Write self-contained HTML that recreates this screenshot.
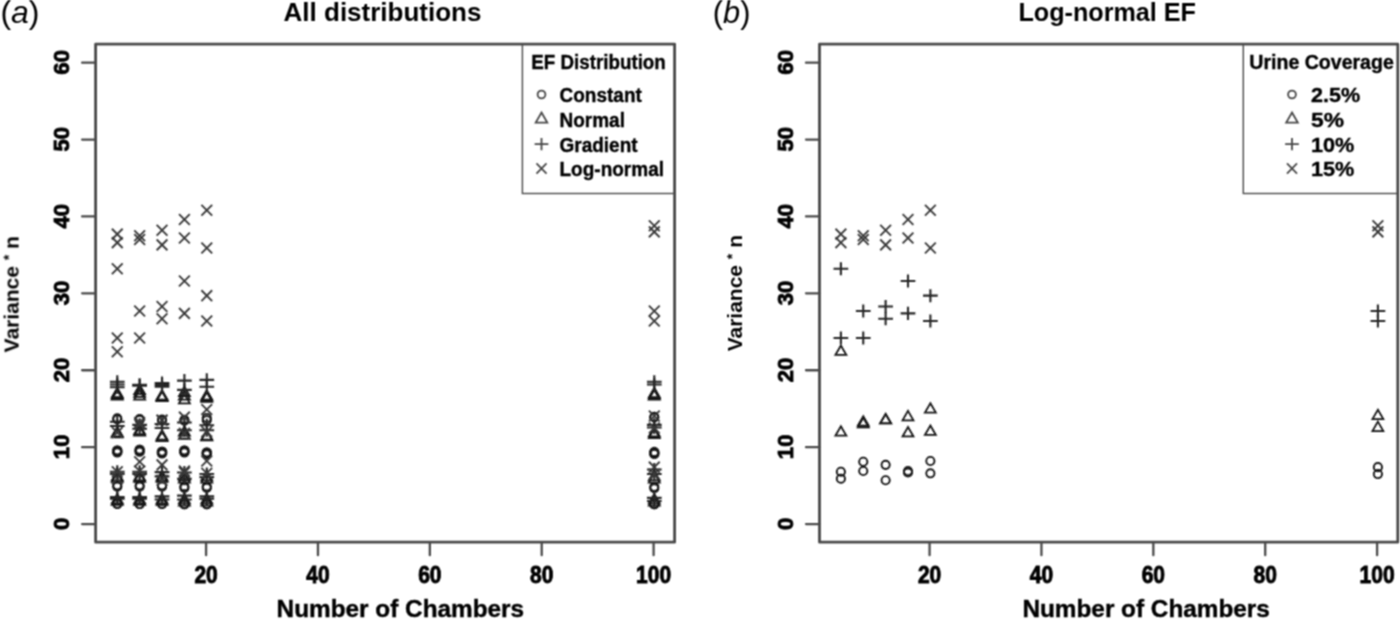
<!DOCTYPE html>
<html><head><meta charset="utf-8"><style>
html,body{margin:0;padding:0;background:#fff;}
svg{display:block;}
text{font-family:"Liberation Sans",sans-serif;fill:#000;}
.tk{font-weight:bold;font-size:21px;stroke:#000;stroke-width:0.8px;}
.lt{font-weight:bold;font-size:19px;stroke:#000;stroke-width:0.35px;}
.lh{font-weight:bold;font-size:19.4px;stroke:#000;stroke-width:0.35px;}
.ti{font-weight:bold;font-size:26px;}
.yl{font-weight:bold;font-size:21px;}
.xl{font-weight:bold;font-size:24.6px;stroke:#000;stroke-width:0.4px;}
.pl{font-size:32px;}
</style></head><body>
<svg width="1400" height="619" viewBox="0 0 1400 619">
<defs><filter id="bl" x="0" y="0" width="1400" height="619" filterUnits="userSpaceOnUse"><feConvolveMatrix order="3" kernelMatrix="1 2 1 2 4 2 1 2 1" divisor="16" edgeMode="none"/></filter></defs>
<rect width="1400" height="619" fill="#fff"/>
<g filter="url(#bl)">
<text class="pl" transform="translate(0.4,23)">(<tspan font-style="italic">a</tspan>)</text>
<text class="pl" transform="translate(712.8,23) scale(0.96,1)">(<tspan font-style="italic">b</tspan>)</text>
<text class="ti" x="382.5" y="21" text-anchor="middle">All distributions</text>
<text class="ti" x="1107.2" y="21" text-anchor="middle" textLength="177.5" lengthAdjust="spacingAndGlyphs">Log-normal EF</text>
<text class="yl" transform="translate(18.6,294.2) rotate(-90)" text-anchor="middle">Variance <tspan font-size="14" dy="-5">*</tspan><tspan dy="5"> n</tspan></text>
<text class="yl" transform="translate(742.2,293.2) rotate(-90)" text-anchor="middle">Variance <tspan font-size="14" dy="-5">*</tspan><tspan dy="5"> n</tspan></text>
<text class="xl" x="276.6" y="616.6" textLength="247.5" lengthAdjust="spacingAndGlyphs">Number of Chambers</text>
<text class="xl" x="1022.4" y="616.6" textLength="247.5" lengthAdjust="spacingAndGlyphs">Number of Chambers</text>
<rect x="95.60" y="44.20" width="579.00" height="498.00" fill="none" stroke="#4a4a4a" stroke-width="2.8" stroke-linejoin="round"/>
<path d="M82.10 524.06H95.60" stroke="#4a4a4a" stroke-width="2.3" stroke-linecap="round"/>
<text class="tk" transform="translate(69.00,523.76) rotate(-90) scale(1.05,1.05)" text-anchor="middle">0</text>
<path d="M82.10 447.16H95.60" stroke="#4a4a4a" stroke-width="2.3" stroke-linecap="round"/>
<text class="tk" transform="translate(69.00,446.86) rotate(-90) scale(1.05,1.05)" text-anchor="middle">10</text>
<path d="M82.10 370.26H95.60" stroke="#4a4a4a" stroke-width="2.3" stroke-linecap="round"/>
<text class="tk" transform="translate(69.00,369.96) rotate(-90) scale(1.05,1.05)" text-anchor="middle">20</text>
<path d="M82.10 293.36H95.60" stroke="#4a4a4a" stroke-width="2.3" stroke-linecap="round"/>
<text class="tk" transform="translate(69.00,293.06) rotate(-90) scale(1.05,1.05)" text-anchor="middle">30</text>
<path d="M82.10 216.46H95.60" stroke="#4a4a4a" stroke-width="2.3" stroke-linecap="round"/>
<text class="tk" transform="translate(69.00,216.16) rotate(-90) scale(1.05,1.05)" text-anchor="middle">40</text>
<path d="M82.10 139.56H95.60" stroke="#4a4a4a" stroke-width="2.3" stroke-linecap="round"/>
<text class="tk" transform="translate(69.00,139.26) rotate(-90) scale(1.05,1.05)" text-anchor="middle">50</text>
<path d="M82.10 62.66H95.60" stroke="#4a4a4a" stroke-width="2.3" stroke-linecap="round"/>
<text class="tk" transform="translate(69.00,62.36) rotate(-90) scale(1.05,1.05)" text-anchor="middle">60</text>
<path d="M206.08 542.20V555.20" stroke="#4a4a4a" stroke-width="2.3" stroke-linecap="round"/>
<text class="tk" transform="translate(206.08,582.8) scale(1,1.14)" text-anchor="middle">20</text>
<path d="M317.96 542.20V555.20" stroke="#4a4a4a" stroke-width="2.3" stroke-linecap="round"/>
<text class="tk" transform="translate(317.96,582.8) scale(1,1.14)" text-anchor="middle">40</text>
<path d="M429.84 542.20V555.20" stroke="#4a4a4a" stroke-width="2.3" stroke-linecap="round"/>
<text class="tk" transform="translate(429.84,582.8) scale(1,1.14)" text-anchor="middle">60</text>
<path d="M541.72 542.20V555.20" stroke="#4a4a4a" stroke-width="2.3" stroke-linecap="round"/>
<text class="tk" transform="translate(541.72,582.8) scale(1,1.14)" text-anchor="middle">80</text>
<path d="M653.60 542.20V555.20" stroke="#4a4a4a" stroke-width="2.3" stroke-linecap="round"/>
<text class="tk" transform="translate(653.60,582.8) scale(1,1.14)" text-anchor="middle">100</text>
<rect x="819.50" y="44.20" width="578.30" height="498.00" fill="none" stroke="#4a4a4a" stroke-width="2.8" stroke-linejoin="round"/>
<path d="M806.00 524.06H819.50" stroke="#4a4a4a" stroke-width="2.3" stroke-linecap="round"/>
<text class="tk" transform="translate(792.50,523.76) rotate(-90) scale(1.05,1.05)" text-anchor="middle">0</text>
<path d="M806.00 447.16H819.50" stroke="#4a4a4a" stroke-width="2.3" stroke-linecap="round"/>
<text class="tk" transform="translate(792.50,446.86) rotate(-90) scale(1.05,1.05)" text-anchor="middle">10</text>
<path d="M806.00 370.26H819.50" stroke="#4a4a4a" stroke-width="2.3" stroke-linecap="round"/>
<text class="tk" transform="translate(792.50,369.96) rotate(-90) scale(1.05,1.05)" text-anchor="middle">20</text>
<path d="M806.00 293.36H819.50" stroke="#4a4a4a" stroke-width="2.3" stroke-linecap="round"/>
<text class="tk" transform="translate(792.50,293.06) rotate(-90) scale(1.05,1.05)" text-anchor="middle">30</text>
<path d="M806.00 216.46H819.50" stroke="#4a4a4a" stroke-width="2.3" stroke-linecap="round"/>
<text class="tk" transform="translate(792.50,216.16) rotate(-90) scale(1.05,1.05)" text-anchor="middle">40</text>
<path d="M806.00 139.56H819.50" stroke="#4a4a4a" stroke-width="2.3" stroke-linecap="round"/>
<text class="tk" transform="translate(792.50,139.26) rotate(-90) scale(1.05,1.05)" text-anchor="middle">50</text>
<path d="M806.00 62.66H819.50" stroke="#4a4a4a" stroke-width="2.3" stroke-linecap="round"/>
<text class="tk" transform="translate(792.50,62.36) rotate(-90) scale(1.05,1.05)" text-anchor="middle">60</text>
<path d="M929.58 542.20V555.20" stroke="#4a4a4a" stroke-width="2.3" stroke-linecap="round"/>
<text class="tk" transform="translate(929.58,582.8) scale(1,1.14)" text-anchor="middle">20</text>
<path d="M1041.46 542.20V555.20" stroke="#4a4a4a" stroke-width="2.3" stroke-linecap="round"/>
<text class="tk" transform="translate(1041.46,582.8) scale(1,1.14)" text-anchor="middle">40</text>
<path d="M1153.34 542.20V555.20" stroke="#4a4a4a" stroke-width="2.3" stroke-linecap="round"/>
<text class="tk" transform="translate(1153.34,582.8) scale(1,1.14)" text-anchor="middle">60</text>
<path d="M1265.22 542.20V555.20" stroke="#4a4a4a" stroke-width="2.3" stroke-linecap="round"/>
<text class="tk" transform="translate(1265.22,582.8) scale(1,1.14)" text-anchor="middle">80</text>
<path d="M1377.10 542.20V555.20" stroke="#4a4a4a" stroke-width="2.3" stroke-linecap="round"/>
<text class="tk" transform="translate(1377.10,582.8) scale(1,1.14)" text-anchor="middle">100</text>
<circle cx="117.28" cy="504.07" r="4.10" fill="none" stroke="#151515" stroke-width="1.9"/>
<circle cx="117.28" cy="503.68" r="4.10" fill="none" stroke="#151515" stroke-width="1.9"/>
<circle cx="117.28" cy="486.76" r="4.10" fill="none" stroke="#151515" stroke-width="1.9"/>
<circle cx="117.28" cy="485.23" r="4.10" fill="none" stroke="#151515" stroke-width="1.9"/>
<circle cx="117.28" cy="452.16" r="4.10" fill="none" stroke="#151515" stroke-width="2.4"/>
<circle cx="117.28" cy="450.62" r="4.10" fill="none" stroke="#151515" stroke-width="2.4"/>
<circle cx="117.28" cy="419.48" r="4.10" fill="none" stroke="#151515" stroke-width="1.9"/>
<circle cx="117.28" cy="418.32" r="4.10" fill="none" stroke="#151515" stroke-width="1.9"/>
<path d="M117.28 495.46L122.73 504.91L111.82 504.91Z" fill="none" stroke="#151515" stroke-width="1.8" stroke-linejoin="miter"/>
<path d="M117.28 493.92L122.73 503.37L111.82 503.37Z" fill="none" stroke="#151515" stroke-width="1.8" stroke-linejoin="miter"/>
<path d="M117.28 472.39L122.73 481.84L111.82 481.84Z" fill="none" stroke="#151515" stroke-width="1.8" stroke-linejoin="miter"/>
<path d="M117.28 470.85L122.73 480.30L111.82 480.30Z" fill="none" stroke="#151515" stroke-width="1.8" stroke-linejoin="miter"/>
<path d="M117.28 427.02L122.73 436.47L111.82 436.47Z" fill="none" stroke="#151515" stroke-width="1.8" stroke-linejoin="miter"/>
<path d="M117.28 427.79L122.73 437.24L111.82 437.24Z" fill="none" stroke="#151515" stroke-width="1.8" stroke-linejoin="miter"/>
<path d="M117.28 387.80L122.73 397.25L111.82 397.25Z" fill="none" stroke="#151515" stroke-width="1.8" stroke-linejoin="miter"/>
<path d="M117.28 388.95L122.73 398.40L111.82 398.40Z" fill="none" stroke="#151515" stroke-width="1.8" stroke-linejoin="miter"/>
<path d="M117.28 390.11L122.73 399.56L111.82 399.56Z" fill="none" stroke="#151515" stroke-width="1.8" stroke-linejoin="miter"/>
<path d="M109.92 498.68H124.64M117.28 492.15V505.21" stroke="#252525" stroke-width="2.1"/>
<path d="M109.92 497.14H124.64M117.28 490.61V503.68" stroke="#252525" stroke-width="2.1"/>
<path d="M109.92 474.07H124.64M117.28 467.54V480.61" stroke="#252525" stroke-width="2.1"/>
<path d="M109.92 471.77H124.64M117.28 465.24V478.30" stroke="#252525" stroke-width="2.1"/>
<path d="M109.92 421.78H124.64M117.28 415.25V428.31" stroke="#252525" stroke-width="2.1"/>
<path d="M109.92 426.01H124.64M117.28 419.48V432.54" stroke="#252525" stroke-width="2.1"/>
<path d="M109.92 381.79H124.64M117.28 375.26V388.33" stroke="#252525" stroke-width="2.1"/>
<path d="M109.92 384.49H124.64M117.28 377.95V391.02" stroke="#252525" stroke-width="2.1"/>
<path d="M109.92 387.18H124.64M117.28 380.65V393.71" stroke="#252525" stroke-width="2.1"/>
<path d="M111.89 466.39L122.66 477.15M111.89 477.15L122.66 466.39" stroke="#3a3a3a" stroke-width="1.9"/>
<path d="M111.89 473.31L122.66 484.07M111.89 484.07L122.66 473.31" stroke="#3a3a3a" stroke-width="1.9"/>
<path d="M111.89 346.42L122.66 357.19M111.89 357.19L122.66 346.42" stroke="#3a3a3a" stroke-width="1.9"/>
<path d="M111.89 427.17L122.66 437.93M111.89 437.93L122.66 427.17" stroke="#3a3a3a" stroke-width="1.9"/>
<path d="M111.89 263.37L122.66 274.13M111.89 274.13L122.66 263.37" stroke="#3a3a3a" stroke-width="1.9"/>
<path d="M111.89 332.58L122.66 343.34M111.89 343.34L122.66 332.58" stroke="#3a3a3a" stroke-width="1.9"/>
<path d="M111.89 228.76L122.66 239.53M111.89 239.53L122.66 228.76" stroke="#3a3a3a" stroke-width="1.9"/>
<path d="M111.89 237.22L122.66 247.99M111.89 247.99L122.66 237.22" stroke="#3a3a3a" stroke-width="1.9"/>
<circle cx="139.65" cy="504.07" r="4.10" fill="none" stroke="#151515" stroke-width="1.9"/>
<circle cx="139.65" cy="504.07" r="4.10" fill="none" stroke="#151515" stroke-width="1.9"/>
<circle cx="139.65" cy="486.76" r="4.10" fill="none" stroke="#151515" stroke-width="1.9"/>
<circle cx="139.65" cy="485.23" r="4.10" fill="none" stroke="#151515" stroke-width="1.9"/>
<circle cx="139.65" cy="451.39" r="4.10" fill="none" stroke="#151515" stroke-width="2.4"/>
<circle cx="139.65" cy="449.85" r="4.10" fill="none" stroke="#151515" stroke-width="2.4"/>
<circle cx="139.65" cy="419.86" r="4.10" fill="none" stroke="#151515" stroke-width="1.9"/>
<circle cx="139.65" cy="419.09" r="4.10" fill="none" stroke="#151515" stroke-width="1.9"/>
<path d="M139.65 495.46L145.11 504.91L134.20 504.91Z" fill="none" stroke="#151515" stroke-width="1.8" stroke-linejoin="miter"/>
<path d="M139.65 493.92L145.11 503.37L134.20 503.37Z" fill="none" stroke="#151515" stroke-width="1.8" stroke-linejoin="miter"/>
<path d="M139.65 472.39L145.11 481.84L134.20 481.84Z" fill="none" stroke="#151515" stroke-width="1.8" stroke-linejoin="miter"/>
<path d="M139.65 470.85L145.11 480.30L134.20 480.30Z" fill="none" stroke="#151515" stroke-width="1.8" stroke-linejoin="miter"/>
<path d="M139.65 424.71L145.11 434.16L134.20 434.16Z" fill="none" stroke="#151515" stroke-width="1.8" stroke-linejoin="miter"/>
<path d="M139.65 426.25L145.11 435.70L134.20 435.70Z" fill="none" stroke="#151515" stroke-width="1.8" stroke-linejoin="miter"/>
<path d="M139.65 384.72L145.11 394.17L134.20 394.17Z" fill="none" stroke="#151515" stroke-width="1.8" stroke-linejoin="miter"/>
<path d="M139.65 387.42L145.11 396.86L134.20 396.86Z" fill="none" stroke="#151515" stroke-width="1.8" stroke-linejoin="miter"/>
<path d="M139.65 390.11L145.11 399.56L134.20 399.56Z" fill="none" stroke="#151515" stroke-width="1.8" stroke-linejoin="miter"/>
<path d="M132.29 498.68H147.01M139.65 492.15V505.21" stroke="#252525" stroke-width="2.1"/>
<path d="M132.29 497.14H147.01M139.65 490.61V503.68" stroke="#252525" stroke-width="2.1"/>
<path d="M132.29 474.07H147.01M139.65 467.54V480.61" stroke="#252525" stroke-width="2.1"/>
<path d="M132.29 471.77H147.01M139.65 465.24V478.30" stroke="#252525" stroke-width="2.1"/>
<path d="M132.29 424.86H147.01M139.65 418.33V431.39" stroke="#252525" stroke-width="2.1"/>
<path d="M132.29 428.70H147.01M139.65 422.17V435.24" stroke="#252525" stroke-width="2.1"/>
<path d="M132.29 384.87H147.01M139.65 378.34V391.40" stroke="#252525" stroke-width="2.1"/>
<path d="M132.29 385.64H147.01M139.65 379.11V392.17" stroke="#252525" stroke-width="2.1"/>
<path d="M134.27 456.39L145.03 467.15M134.27 467.15L145.03 456.39" stroke="#3a3a3a" stroke-width="1.9"/>
<path d="M134.27 465.62L145.03 476.38M134.27 476.38L145.03 465.62" stroke="#3a3a3a" stroke-width="1.9"/>
<path d="M134.27 417.17L145.03 427.93M134.27 427.93L145.03 417.17" stroke="#3a3a3a" stroke-width="1.9"/>
<path d="M134.27 418.71L145.03 429.47M134.27 429.47L145.03 418.71" stroke="#3a3a3a" stroke-width="1.9"/>
<path d="M134.27 305.66L145.03 316.43M134.27 316.43L145.03 305.66" stroke="#3a3a3a" stroke-width="1.9"/>
<path d="M134.27 332.58L145.03 343.34M134.27 343.34L145.03 332.58" stroke="#3a3a3a" stroke-width="1.9"/>
<path d="M134.27 230.30L145.03 241.07M134.27 241.07L145.03 230.30" stroke="#3a3a3a" stroke-width="1.9"/>
<path d="M134.27 234.15L145.03 244.91M134.27 244.91L145.03 234.15" stroke="#3a3a3a" stroke-width="1.9"/>
<circle cx="162.03" cy="504.07" r="4.10" fill="none" stroke="#151515" stroke-width="1.9"/>
<circle cx="162.03" cy="503.68" r="4.10" fill="none" stroke="#151515" stroke-width="1.9"/>
<circle cx="162.03" cy="486.76" r="4.10" fill="none" stroke="#151515" stroke-width="1.9"/>
<circle cx="162.03" cy="485.23" r="4.10" fill="none" stroke="#151515" stroke-width="1.9"/>
<circle cx="162.03" cy="453.31" r="4.10" fill="none" stroke="#151515" stroke-width="2.4"/>
<circle cx="162.03" cy="451.77" r="4.10" fill="none" stroke="#151515" stroke-width="2.4"/>
<circle cx="162.03" cy="420.63" r="4.10" fill="none" stroke="#151515" stroke-width="1.9"/>
<circle cx="162.03" cy="419.48" r="4.10" fill="none" stroke="#151515" stroke-width="1.9"/>
<path d="M162.03 495.46L167.48 504.91L156.57 504.91Z" fill="none" stroke="#151515" stroke-width="1.8" stroke-linejoin="miter"/>
<path d="M162.03 493.92L167.48 503.37L156.57 503.37Z" fill="none" stroke="#151515" stroke-width="1.8" stroke-linejoin="miter"/>
<path d="M162.03 472.39L167.48 481.84L156.57 481.84Z" fill="none" stroke="#151515" stroke-width="1.8" stroke-linejoin="miter"/>
<path d="M162.03 470.85L167.48 480.30L156.57 480.30Z" fill="none" stroke="#151515" stroke-width="1.8" stroke-linejoin="miter"/>
<path d="M162.03 430.10L167.48 439.54L156.57 439.54Z" fill="none" stroke="#151515" stroke-width="1.8" stroke-linejoin="miter"/>
<path d="M162.03 431.63L167.48 441.08L156.57 441.08Z" fill="none" stroke="#151515" stroke-width="1.8" stroke-linejoin="miter"/>
<path d="M162.03 390.11L167.48 399.56L156.57 399.56Z" fill="none" stroke="#151515" stroke-width="1.8" stroke-linejoin="miter"/>
<path d="M162.03 390.88L167.48 400.32L156.57 400.32Z" fill="none" stroke="#151515" stroke-width="1.8" stroke-linejoin="miter"/>
<path d="M162.03 391.65L167.48 401.09L156.57 401.09Z" fill="none" stroke="#151515" stroke-width="1.8" stroke-linejoin="miter"/>
<path d="M154.67 499.45H169.39M162.03 492.92V505.98" stroke="#252525" stroke-width="2.1"/>
<path d="M154.67 496.38H169.39M162.03 489.84V502.91" stroke="#252525" stroke-width="2.1"/>
<path d="M154.67 476.38H169.39M162.03 469.85V482.91" stroke="#252525" stroke-width="2.1"/>
<path d="M154.67 472.15H169.39M162.03 465.62V478.68" stroke="#252525" stroke-width="2.1"/>
<path d="M154.67 424.09H169.39M162.03 417.56V430.62" stroke="#252525" stroke-width="2.1"/>
<path d="M154.67 427.93H169.39M162.03 421.40V434.47" stroke="#252525" stroke-width="2.1"/>
<path d="M154.67 382.95H169.39M162.03 376.42V389.48" stroke="#252525" stroke-width="2.1"/>
<path d="M154.67 384.87H169.39M162.03 378.34V391.40" stroke="#252525" stroke-width="2.1"/>
<path d="M154.67 386.79H169.39M162.03 380.26V393.33" stroke="#252525" stroke-width="2.1"/>
<path d="M156.65 459.46L167.41 470.23M156.65 470.23L167.41 459.46" stroke="#3a3a3a" stroke-width="1.9"/>
<path d="M156.65 474.84L167.41 485.61M156.65 485.61L167.41 474.84" stroke="#3a3a3a" stroke-width="1.9"/>
<path d="M156.65 414.86L167.41 425.63M156.65 425.63L167.41 414.86" stroke="#3a3a3a" stroke-width="1.9"/>
<path d="M156.65 414.86L167.41 425.63M156.65 425.63L167.41 414.86" stroke="#3a3a3a" stroke-width="1.9"/>
<path d="M156.65 301.05L167.41 311.81M156.65 311.81L167.41 301.05" stroke="#3a3a3a" stroke-width="1.9"/>
<path d="M156.65 313.35L167.41 324.12M156.65 324.12L167.41 313.35" stroke="#3a3a3a" stroke-width="1.9"/>
<path d="M156.65 224.92L167.41 235.68M156.65 235.68L167.41 224.92" stroke="#3a3a3a" stroke-width="1.9"/>
<path d="M156.65 239.53L167.41 250.29M156.65 250.29L167.41 239.53" stroke="#3a3a3a" stroke-width="1.9"/>
<circle cx="184.40" cy="504.45" r="4.10" fill="none" stroke="#151515" stroke-width="1.9"/>
<circle cx="184.40" cy="504.07" r="4.10" fill="none" stroke="#151515" stroke-width="1.9"/>
<circle cx="184.40" cy="487.92" r="4.10" fill="none" stroke="#151515" stroke-width="1.9"/>
<circle cx="184.40" cy="486.38" r="4.10" fill="none" stroke="#151515" stroke-width="1.9"/>
<circle cx="184.40" cy="452.16" r="4.10" fill="none" stroke="#151515" stroke-width="2.4"/>
<circle cx="184.40" cy="450.62" r="4.10" fill="none" stroke="#151515" stroke-width="2.4"/>
<circle cx="184.40" cy="420.63" r="4.10" fill="none" stroke="#151515" stroke-width="1.9"/>
<circle cx="184.40" cy="419.86" r="4.10" fill="none" stroke="#151515" stroke-width="1.9"/>
<path d="M184.40 496.23L189.86 505.68L178.95 505.68Z" fill="none" stroke="#151515" stroke-width="1.8" stroke-linejoin="miter"/>
<path d="M184.40 493.92L189.86 503.37L178.95 503.37Z" fill="none" stroke="#151515" stroke-width="1.8" stroke-linejoin="miter"/>
<path d="M184.40 473.16L189.86 482.61L178.95 482.61Z" fill="none" stroke="#151515" stroke-width="1.8" stroke-linejoin="miter"/>
<path d="M184.40 470.85L189.86 480.30L178.95 480.30Z" fill="none" stroke="#151515" stroke-width="1.8" stroke-linejoin="miter"/>
<path d="M184.40 426.25L189.86 435.70L178.95 435.70Z" fill="none" stroke="#151515" stroke-width="1.8" stroke-linejoin="miter"/>
<path d="M184.40 429.33L189.86 438.77L178.95 438.77Z" fill="none" stroke="#151515" stroke-width="1.8" stroke-linejoin="miter"/>
<path d="M184.40 386.65L189.86 396.09L178.95 396.09Z" fill="none" stroke="#151515" stroke-width="1.8" stroke-linejoin="miter"/>
<path d="M184.40 390.11L189.86 399.56L178.95 399.56Z" fill="none" stroke="#151515" stroke-width="1.8" stroke-linejoin="miter"/>
<path d="M184.40 393.95L189.86 403.40L178.95 403.40Z" fill="none" stroke="#151515" stroke-width="1.8" stroke-linejoin="miter"/>
<path d="M177.04 499.45H191.76M184.40 492.92V505.98" stroke="#252525" stroke-width="2.1"/>
<path d="M177.04 495.61H191.76M184.40 489.07V502.14" stroke="#252525" stroke-width="2.1"/>
<path d="M177.04 478.69H191.76M184.40 472.16V485.22" stroke="#252525" stroke-width="2.1"/>
<path d="M177.04 472.54H191.76M184.40 466.00V479.07" stroke="#252525" stroke-width="2.1"/>
<path d="M177.04 422.55H191.76M184.40 416.02V429.08" stroke="#252525" stroke-width="2.1"/>
<path d="M177.04 430.24H191.76M184.40 423.71V436.77" stroke="#252525" stroke-width="2.1"/>
<path d="M177.04 380.64H191.76M184.40 374.11V387.17" stroke="#252525" stroke-width="2.1"/>
<path d="M177.04 389.87H191.76M184.40 383.34V396.40" stroke="#252525" stroke-width="2.1"/>
<path d="M179.02 465.62L189.79 476.38M179.02 476.38L189.79 465.62" stroke="#3a3a3a" stroke-width="1.9"/>
<path d="M179.02 467.15L189.79 477.92M179.02 477.92L189.79 467.15" stroke="#3a3a3a" stroke-width="1.9"/>
<path d="M179.02 411.79L189.79 422.55M179.02 422.55L189.79 411.79" stroke="#3a3a3a" stroke-width="1.9"/>
<path d="M179.02 427.94L189.79 438.70M179.02 438.70L189.79 427.94" stroke="#3a3a3a" stroke-width="1.9"/>
<path d="M179.02 275.67L189.79 286.44M179.02 286.44L189.79 275.67" stroke="#3a3a3a" stroke-width="1.9"/>
<path d="M179.02 307.97L189.79 318.74M179.02 318.74L189.79 307.97" stroke="#3a3a3a" stroke-width="1.9"/>
<path d="M179.02 214.15L189.79 224.92M179.02 224.92L189.79 214.15" stroke="#3a3a3a" stroke-width="1.9"/>
<path d="M179.02 232.61L189.79 243.37M179.02 243.37L189.79 232.61" stroke="#3a3a3a" stroke-width="1.9"/>
<circle cx="206.78" cy="504.45" r="4.10" fill="none" stroke="#151515" stroke-width="1.9"/>
<circle cx="206.78" cy="504.07" r="4.10" fill="none" stroke="#151515" stroke-width="1.9"/>
<circle cx="206.78" cy="487.92" r="4.10" fill="none" stroke="#151515" stroke-width="1.9"/>
<circle cx="206.78" cy="486.38" r="4.10" fill="none" stroke="#151515" stroke-width="1.9"/>
<circle cx="206.78" cy="454.08" r="4.10" fill="none" stroke="#151515" stroke-width="2.4"/>
<circle cx="206.78" cy="452.54" r="4.10" fill="none" stroke="#151515" stroke-width="2.4"/>
<circle cx="206.78" cy="420.24" r="4.10" fill="none" stroke="#151515" stroke-width="1.9"/>
<circle cx="206.78" cy="417.94" r="4.10" fill="none" stroke="#151515" stroke-width="1.9"/>
<path d="M206.78 496.23L212.23 505.68L201.33 505.68Z" fill="none" stroke="#151515" stroke-width="1.8" stroke-linejoin="miter"/>
<path d="M206.78 493.92L212.23 503.37L201.33 503.37Z" fill="none" stroke="#151515" stroke-width="1.8" stroke-linejoin="miter"/>
<path d="M206.78 473.16L212.23 482.61L201.33 482.61Z" fill="none" stroke="#151515" stroke-width="1.8" stroke-linejoin="miter"/>
<path d="M206.78 470.85L212.23 480.30L201.33 480.30Z" fill="none" stroke="#151515" stroke-width="1.8" stroke-linejoin="miter"/>
<path d="M206.78 430.10L212.23 439.54L201.33 439.54Z" fill="none" stroke="#151515" stroke-width="1.8" stroke-linejoin="miter"/>
<path d="M206.78 430.86L212.23 440.31L201.33 440.31Z" fill="none" stroke="#151515" stroke-width="1.8" stroke-linejoin="miter"/>
<path d="M206.78 390.11L212.23 399.56L201.33 399.56Z" fill="none" stroke="#151515" stroke-width="1.8" stroke-linejoin="miter"/>
<path d="M206.78 391.26L212.23 400.71L201.33 400.71Z" fill="none" stroke="#151515" stroke-width="1.8" stroke-linejoin="miter"/>
<path d="M206.78 392.41L212.23 401.86L201.33 401.86Z" fill="none" stroke="#151515" stroke-width="1.8" stroke-linejoin="miter"/>
<path d="M199.42 498.68H214.14M206.78 492.15V505.21" stroke="#252525" stroke-width="2.1"/>
<path d="M199.42 496.38H214.14M206.78 489.84V502.91" stroke="#252525" stroke-width="2.1"/>
<path d="M199.42 477.15H214.14M206.78 470.62V483.68" stroke="#252525" stroke-width="2.1"/>
<path d="M199.42 474.07H214.14M206.78 467.54V480.61" stroke="#252525" stroke-width="2.1"/>
<path d="M199.42 425.24H214.14M206.78 418.71V431.78" stroke="#252525" stroke-width="2.1"/>
<path d="M199.42 430.24H214.14M206.78 423.71V436.77" stroke="#252525" stroke-width="2.1"/>
<path d="M199.42 379.87H214.14M206.78 373.34V386.40" stroke="#252525" stroke-width="2.1"/>
<path d="M199.42 386.79H214.14M206.78 380.26V393.33" stroke="#252525" stroke-width="2.1"/>
<path d="M201.40 455.62L212.16 466.38M201.40 466.38L212.16 455.62" stroke="#3a3a3a" stroke-width="1.9"/>
<path d="M201.40 467.92L212.16 478.69M201.40 478.69L212.16 467.92" stroke="#3a3a3a" stroke-width="1.9"/>
<path d="M201.40 404.10L212.16 414.86M201.40 414.86L212.16 404.10" stroke="#3a3a3a" stroke-width="1.9"/>
<path d="M201.40 426.40L212.16 437.16M201.40 437.16L212.16 426.40" stroke="#3a3a3a" stroke-width="1.9"/>
<path d="M201.40 290.28L212.16 301.05M201.40 301.05L212.16 290.28" stroke="#3a3a3a" stroke-width="1.9"/>
<path d="M201.40 315.66L212.16 326.43M201.40 326.43L212.16 315.66" stroke="#3a3a3a" stroke-width="1.9"/>
<path d="M201.40 204.93L212.16 215.69M201.40 215.69L212.16 204.93" stroke="#3a3a3a" stroke-width="1.9"/>
<path d="M201.40 242.61L212.16 253.37M201.40 253.37L212.16 242.61" stroke="#3a3a3a" stroke-width="1.9"/>
<circle cx="654.30" cy="504.45" r="4.10" fill="none" stroke="#151515" stroke-width="1.9"/>
<circle cx="654.30" cy="504.07" r="4.10" fill="none" stroke="#151515" stroke-width="1.9"/>
<circle cx="654.30" cy="488.30" r="4.10" fill="none" stroke="#151515" stroke-width="1.9"/>
<circle cx="654.30" cy="486.76" r="4.10" fill="none" stroke="#151515" stroke-width="1.9"/>
<circle cx="654.30" cy="453.70" r="4.10" fill="none" stroke="#151515" stroke-width="2.4"/>
<circle cx="654.30" cy="452.16" r="4.10" fill="none" stroke="#151515" stroke-width="2.4"/>
<circle cx="654.30" cy="417.55" r="4.10" fill="none" stroke="#151515" stroke-width="1.9"/>
<circle cx="654.30" cy="416.78" r="4.10" fill="none" stroke="#151515" stroke-width="1.9"/>
<path d="M654.30 496.23L659.75 505.68L648.85 505.68Z" fill="none" stroke="#151515" stroke-width="1.8" stroke-linejoin="miter"/>
<path d="M654.30 493.92L659.75 503.37L648.85 503.37Z" fill="none" stroke="#151515" stroke-width="1.8" stroke-linejoin="miter"/>
<path d="M654.30 473.16L659.75 482.61L648.85 482.61Z" fill="none" stroke="#151515" stroke-width="1.8" stroke-linejoin="miter"/>
<path d="M654.30 470.85L659.75 480.30L648.85 480.30Z" fill="none" stroke="#151515" stroke-width="1.8" stroke-linejoin="miter"/>
<path d="M654.30 427.02L659.75 436.47L648.85 436.47Z" fill="none" stroke="#151515" stroke-width="1.8" stroke-linejoin="miter"/>
<path d="M654.30 428.56L659.75 438.01L648.85 438.01Z" fill="none" stroke="#151515" stroke-width="1.8" stroke-linejoin="miter"/>
<path d="M654.30 387.80L659.75 397.25L648.85 397.25Z" fill="none" stroke="#151515" stroke-width="1.8" stroke-linejoin="miter"/>
<path d="M654.30 388.95L659.75 398.40L648.85 398.40Z" fill="none" stroke="#151515" stroke-width="1.8" stroke-linejoin="miter"/>
<path d="M654.30 390.11L659.75 399.56L648.85 399.56Z" fill="none" stroke="#151515" stroke-width="1.8" stroke-linejoin="miter"/>
<path d="M646.94 500.99H661.66M654.30 494.46V507.52" stroke="#252525" stroke-width="2.1"/>
<path d="M646.94 497.91H661.66M654.30 491.38V504.45" stroke="#252525" stroke-width="2.1"/>
<path d="M646.94 474.07H661.66M654.30 467.54V480.61" stroke="#252525" stroke-width="2.1"/>
<path d="M646.94 469.46H661.66M654.30 462.93V475.99" stroke="#252525" stroke-width="2.1"/>
<path d="M646.94 424.86H661.66M654.30 418.33V431.39" stroke="#252525" stroke-width="2.1"/>
<path d="M646.94 427.55H661.66M654.30 421.02V434.08" stroke="#252525" stroke-width="2.1"/>
<path d="M646.94 381.79H661.66M654.30 375.26V388.33" stroke="#252525" stroke-width="2.1"/>
<path d="M646.94 384.49H661.66M654.30 377.95V391.02" stroke="#252525" stroke-width="2.1"/>
<path d="M648.92 461.77L659.68 472.54M648.92 472.54L659.68 461.77" stroke="#3a3a3a" stroke-width="1.9"/>
<path d="M648.92 468.69L659.68 479.46M648.92 479.46L659.68 468.69" stroke="#3a3a3a" stroke-width="1.9"/>
<path d="M648.92 410.63L659.68 421.40M648.92 421.40L659.68 410.63" stroke="#3a3a3a" stroke-width="1.9"/>
<path d="M648.92 422.55L659.68 433.32M648.92 433.32L659.68 422.55" stroke="#3a3a3a" stroke-width="1.9"/>
<path d="M648.92 305.66L659.68 316.43M648.92 316.43L659.68 305.66" stroke="#3a3a3a" stroke-width="1.9"/>
<path d="M648.92 315.66L659.68 326.43M648.92 326.43L659.68 315.66" stroke="#3a3a3a" stroke-width="1.9"/>
<path d="M648.92 220.31L659.68 231.07M648.92 231.07L659.68 220.31" stroke="#3a3a3a" stroke-width="1.9"/>
<path d="M648.92 226.46L659.68 237.22M648.92 237.22L659.68 226.46" stroke="#3a3a3a" stroke-width="1.9"/>
<circle cx="840.88" cy="471.77" r="4.10" fill="none" stroke="#151515" stroke-width="1.9"/>
<circle cx="840.88" cy="478.69" r="4.10" fill="none" stroke="#151515" stroke-width="1.9"/>
<path d="M840.88 345.51L846.33 354.95L835.42 354.95Z" fill="none" stroke="#151515" stroke-width="1.8" stroke-linejoin="miter"/>
<path d="M840.88 426.25L846.33 435.70L835.42 435.70Z" fill="none" stroke="#151515" stroke-width="1.8" stroke-linejoin="miter"/>
<path d="M833.52 268.75H848.24M840.88 262.22V275.28" stroke="#252525" stroke-width="2.1"/>
<path d="M833.52 337.96H848.24M840.88 331.43V344.49" stroke="#252525" stroke-width="2.1"/>
<path d="M835.49 228.76L846.26 239.53M835.49 239.53L846.26 228.76" stroke="#3a3a3a" stroke-width="1.9"/>
<path d="M835.49 237.22L846.26 247.99M835.49 247.99L846.26 237.22" stroke="#3a3a3a" stroke-width="1.9"/>
<circle cx="863.25" cy="461.77" r="4.10" fill="none" stroke="#151515" stroke-width="1.9"/>
<circle cx="863.25" cy="471.00" r="4.10" fill="none" stroke="#151515" stroke-width="1.9"/>
<path d="M863.25 416.25L868.71 425.70L857.80 425.70Z" fill="none" stroke="#151515" stroke-width="1.8" stroke-linejoin="miter"/>
<path d="M863.25 417.79L868.71 427.24L857.80 427.24Z" fill="none" stroke="#151515" stroke-width="1.8" stroke-linejoin="miter"/>
<path d="M855.89 311.05H870.61M863.25 304.51V317.58" stroke="#252525" stroke-width="2.1"/>
<path d="M855.89 337.96H870.61M863.25 331.43V344.49" stroke="#252525" stroke-width="2.1"/>
<path d="M857.87 230.30L868.63 241.07M857.87 241.07L868.63 230.30" stroke="#3a3a3a" stroke-width="1.9"/>
<path d="M857.87 234.15L868.63 244.91M857.87 244.91L868.63 234.15" stroke="#3a3a3a" stroke-width="1.9"/>
<circle cx="885.63" cy="464.85" r="4.10" fill="none" stroke="#151515" stroke-width="1.9"/>
<circle cx="885.63" cy="480.23" r="4.10" fill="none" stroke="#151515" stroke-width="1.9"/>
<path d="M885.63 413.95L891.08 423.39L880.17 423.39Z" fill="none" stroke="#151515" stroke-width="1.8" stroke-linejoin="miter"/>
<path d="M885.63 413.95L891.08 423.39L880.17 423.39Z" fill="none" stroke="#151515" stroke-width="1.8" stroke-linejoin="miter"/>
<path d="M878.27 306.43H892.99M885.63 299.90V312.96" stroke="#252525" stroke-width="2.1"/>
<path d="M878.27 318.74H892.99M885.63 312.20V325.27" stroke="#252525" stroke-width="2.1"/>
<path d="M880.25 224.92L891.01 235.68M880.25 235.68L891.01 224.92" stroke="#3a3a3a" stroke-width="1.9"/>
<path d="M880.25 239.53L891.01 250.29M880.25 250.29L891.01 239.53" stroke="#3a3a3a" stroke-width="1.9"/>
<circle cx="908.00" cy="471.00" r="4.10" fill="none" stroke="#151515" stroke-width="1.9"/>
<circle cx="908.00" cy="472.54" r="4.10" fill="none" stroke="#151515" stroke-width="1.9"/>
<path d="M908.00 410.87L913.46 420.32L902.55 420.32Z" fill="none" stroke="#151515" stroke-width="1.8" stroke-linejoin="miter"/>
<path d="M908.00 427.02L913.46 436.47L902.55 436.47Z" fill="none" stroke="#151515" stroke-width="1.8" stroke-linejoin="miter"/>
<path d="M900.64 281.06H915.36M908.00 274.52V287.59" stroke="#252525" stroke-width="2.1"/>
<path d="M900.64 313.35H915.36M908.00 306.82V319.89" stroke="#252525" stroke-width="2.1"/>
<path d="M902.62 214.15L913.39 224.92M902.62 224.92L913.39 214.15" stroke="#3a3a3a" stroke-width="1.9"/>
<path d="M902.62 232.61L913.39 243.37M902.62 243.37L913.39 232.61" stroke="#3a3a3a" stroke-width="1.9"/>
<circle cx="930.38" cy="461.00" r="4.10" fill="none" stroke="#151515" stroke-width="1.9"/>
<circle cx="930.38" cy="473.31" r="4.10" fill="none" stroke="#151515" stroke-width="1.9"/>
<path d="M930.38 403.18L935.83 412.63L924.93 412.63Z" fill="none" stroke="#151515" stroke-width="1.8" stroke-linejoin="miter"/>
<path d="M930.38 425.48L935.83 434.93L924.93 434.93Z" fill="none" stroke="#151515" stroke-width="1.8" stroke-linejoin="miter"/>
<path d="M923.02 295.67H937.74M930.38 289.13V302.20" stroke="#252525" stroke-width="2.1"/>
<path d="M923.02 321.04H937.74M930.38 314.51V327.58" stroke="#252525" stroke-width="2.1"/>
<path d="M925.00 204.93L935.76 215.69M925.00 215.69L935.76 204.93" stroke="#3a3a3a" stroke-width="1.9"/>
<path d="M925.00 242.61L935.76 253.37M925.00 253.37L935.76 242.61" stroke="#3a3a3a" stroke-width="1.9"/>
<circle cx="1377.90" cy="467.15" r="4.10" fill="none" stroke="#151515" stroke-width="1.9"/>
<circle cx="1377.90" cy="474.07" r="4.10" fill="none" stroke="#151515" stroke-width="1.9"/>
<path d="M1377.90 409.72L1383.35 419.16L1372.45 419.16Z" fill="none" stroke="#151515" stroke-width="1.8" stroke-linejoin="miter"/>
<path d="M1377.90 421.64L1383.35 431.08L1372.45 431.08Z" fill="none" stroke="#151515" stroke-width="1.8" stroke-linejoin="miter"/>
<path d="M1370.54 311.05H1385.26M1377.90 304.51V317.58" stroke="#252525" stroke-width="2.1"/>
<path d="M1370.54 321.04H1385.26M1377.90 314.51V327.58" stroke="#252525" stroke-width="2.1"/>
<path d="M1372.52 220.31L1383.28 231.07M1372.52 231.07L1383.28 220.31" stroke="#3a3a3a" stroke-width="1.9"/>
<path d="M1372.52 226.46L1383.28 237.22M1372.52 237.22L1383.28 226.46" stroke="#3a3a3a" stroke-width="1.9"/>
<rect x="522.4" y="44.2" width="152.20" height="149.30" fill="none" stroke="#4a4a4a" stroke-width="1.4"/>
<text class="lh" transform="translate(531.3,68.6) scale(1,1.07)" textLength="134.5" lengthAdjust="spacingAndGlyphs">EF Distribution</text>
<circle cx="541.50" cy="94.50" r="3.90" fill="none" stroke="#474747" stroke-width="1.8"/>
<text class="lt" transform="translate(559.5,102.1) scale(1.0,1.1)">Constant</text>
<path d="M541.50 112.51L547.29 122.54L535.71 122.54Z" fill="none" stroke="#474747" stroke-width="1.8" stroke-linejoin="miter"/>
<text class="lt" transform="translate(559.5,126.8) scale(1.0,1.1)">Normal</text>
<path d="M534.62 144.20H548.38M541.50 138.09V150.31" stroke="#474747" stroke-width="1.8"/>
<text class="lt" transform="translate(559.5,151.8) scale(1.0,1.1)">Gradient</text>
<path d="M536.47 163.47L546.53 173.53M536.47 173.53L546.53 163.47" stroke="#474747" stroke-width="1.8"/>
<text class="lt" transform="translate(559.5,176.1) scale(1.0,1.1)">Log-normal</text>
<rect x="1243.3" y="44.2" width="154.50" height="149.30" fill="none" stroke="#4a4a4a" stroke-width="1.4"/>
<text class="lh" transform="translate(1249.3,68.6) scale(1,1.07)" textLength="144.5" lengthAdjust="spacingAndGlyphs">Urine Coverage</text>
<circle cx="1292.00" cy="94.50" r="3.90" fill="none" stroke="#474747" stroke-width="1.8"/>
<text class="lt" transform="translate(1311,102.1) scale(1.135,1.1)">2.5%</text>
<path d="M1292.00 112.51L1297.79 122.54L1286.21 122.54Z" fill="none" stroke="#474747" stroke-width="1.8" stroke-linejoin="miter"/>
<text class="lt" transform="translate(1311,126.8) scale(1.2,1.1)">5%</text>
<path d="M1285.12 144.20H1298.88M1292.00 138.09V150.31" stroke="#474747" stroke-width="1.8"/>
<text class="lt" transform="translate(1311,151.8) scale(1.14,1.1)">10%</text>
<path d="M1286.97 163.47L1297.03 173.53M1286.97 173.53L1297.03 163.47" stroke="#474747" stroke-width="1.8"/>
<text class="lt" transform="translate(1311,176.1) scale(1.14,1.1)">15%</text>
</g>
</svg>
</body></html>
